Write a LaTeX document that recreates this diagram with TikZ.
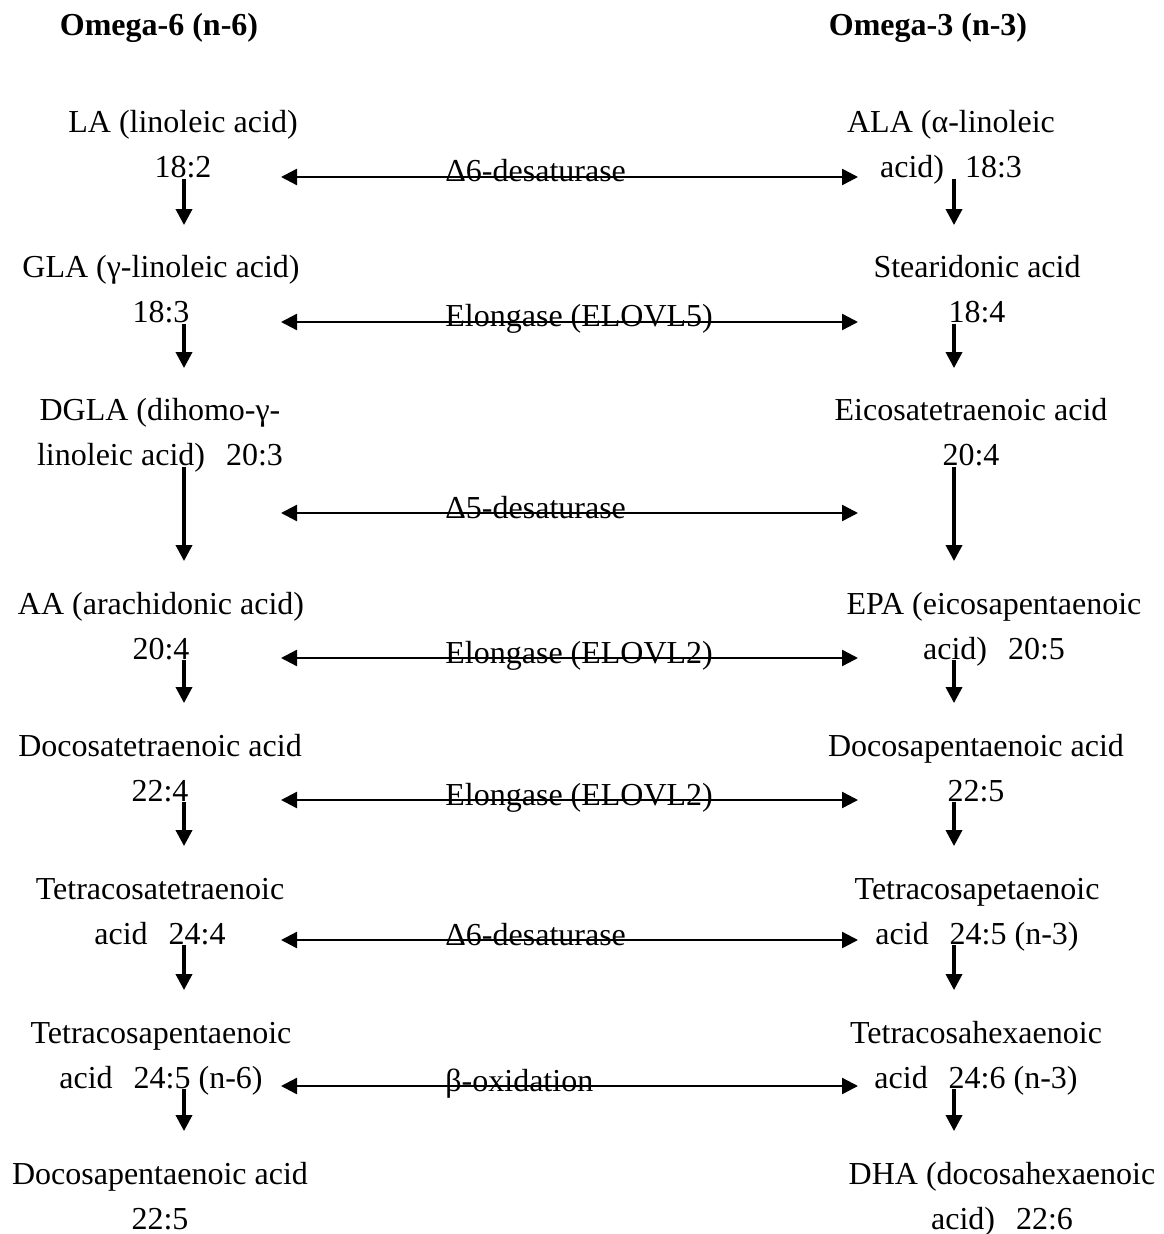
\documentclass[tikz,border=0pt]{standalone}
\usepackage{fontspec}
\setmainfont{Liberation Serif}
\usetikzlibrary{arrows.meta}
\newcommand\twoln[2]{\begin{tabular}[t]{@{}c@{}}#1\\#2\end{tabular}}
\newcommand\gp{\hspace*{10.5pt}}
\begin{document}
\begin{tikzpicture}[x=0.5pt,y=-0.5pt,
  acid/.style={anchor=base, inner sep=0pt, font=\fontsize{16}{22.5}\selectfont},
  head/.style={anchor=base, inner sep=0pt, font=\fontsize{16}{19}\selectfont\bfseries},
  enz/.style={anchor=base west, inner sep=0pt, font=\fontsize{16}{19}\selectfont},
  varrow/.style={-{Triangle[length=8pt,width=8pt]}, line width=1.7pt, shorten <=-6.5pt, shorten >=10.5pt},
  harrow/.style={{Triangle[length=8pt,width=8pt]}-{Triangle[length=8pt,width=8pt]}, line width=1.2pt}]
\useasboundingbox (0,0) rectangle (1163,1234);
% headers
\node[head] (h6) at (159,36) {Omega-6 (n-6)};
\node[head] (h3) at (928,36) {Omega-3 (n-3)};
% omega-6 column
\node[acid] (L1) at (183,133) {\twoln{LA (linoleic acid)}{18:2}};
\node[acid] (L2) at (161,278) {\twoln{GLA (γ-linoleic acid)}{18:3}};
\node[acid] (L3) at (160,421) {\twoln{DGLA (dihomo-γ-}{linoleic acid)\gp 20:3}};
\node[acid] (L4) at (161,614) {\twoln{AA (arachidonic acid)}{20:4}};
\node[acid] (L5) at (160,756) {\twoln{Docosatetraenoic acid}{22:4}};
\node[acid] (L6) at (160,899) {\twoln{Tetracosatetraenoic}{acid\gp 24:4}};
\node[acid] (L7) at (161,1043) {\twoln{Tetracosapentaenoic}{acid\gp 24:5 (n-6)}};
\node[acid] (L8) at (160,1184) {\twoln{Docosapentaenoic acid}{22:5}};
% omega-3 column
\node[acid] (R1) at (951,133) {\twoln{ALA (α-linoleic}{acid)\gp 18:3}};
\node[acid] (R2) at (977,278) {\twoln{Stearidonic acid}{18:4}};
\node[acid] (R3) at (971,421) {\twoln{Eicosatetraenoic acid}{20:4}};
\node[acid] (R4) at (994,614) {\twoln{EPA (eicosapentaenoic}{acid)\gp 20:5}};
\node[acid] (R5) at (976,756) {\twoln{Docosapentaenoic acid}{22:5}};
\node[acid] (R6) at (977,899) {\twoln{Tetracosapetaenoic}{acid\gp 24:5 (n-3)}};
\node[acid] (R7) at (976,1043) {\twoln{Tetracosahexaenoic}{acid\gp 24:6 (n-3)}};
\node[acid] (R8) at (1002,1184) {\twoln{DHA (docosahexaenoic}{acid)\gp 22:6}};
% vertical arrows
\coordinate (lx) at (184,0);
\coordinate (rx) at (954,0);
\foreach \a/\b in {1/2,2/3,3/4,4/5,5/6,6/7,7/8}{
  \draw[varrow] (L\a.south -| lx) -- (L\b.north -| lx);
  \draw[varrow] (R\a.south -| rx) -- (R\b.north -| rx);
}
% enzyme labels and horizontal arrows
\foreach \i/\yy/\lab in {1/177/{Δ6-desaturase},2/322/{Elongase (ELOVL5)},3/513/{Δ5-desaturase},4/658/{Elongase (ELOVL2)},5/800/{Elongase (ELOVL2)},6/940/{Δ6-desaturase},7/1086/{β-oxidation}}{
  \node[enz] (E\i) at (445,\yy+5) {\lab};
  \coordinate (A\i) at (281,\yy);
  \coordinate (B\i) at (858,\yy);
  \draw[harrow] (A\i) -- (B\i);
}
\end{tikzpicture}
\end{document}
